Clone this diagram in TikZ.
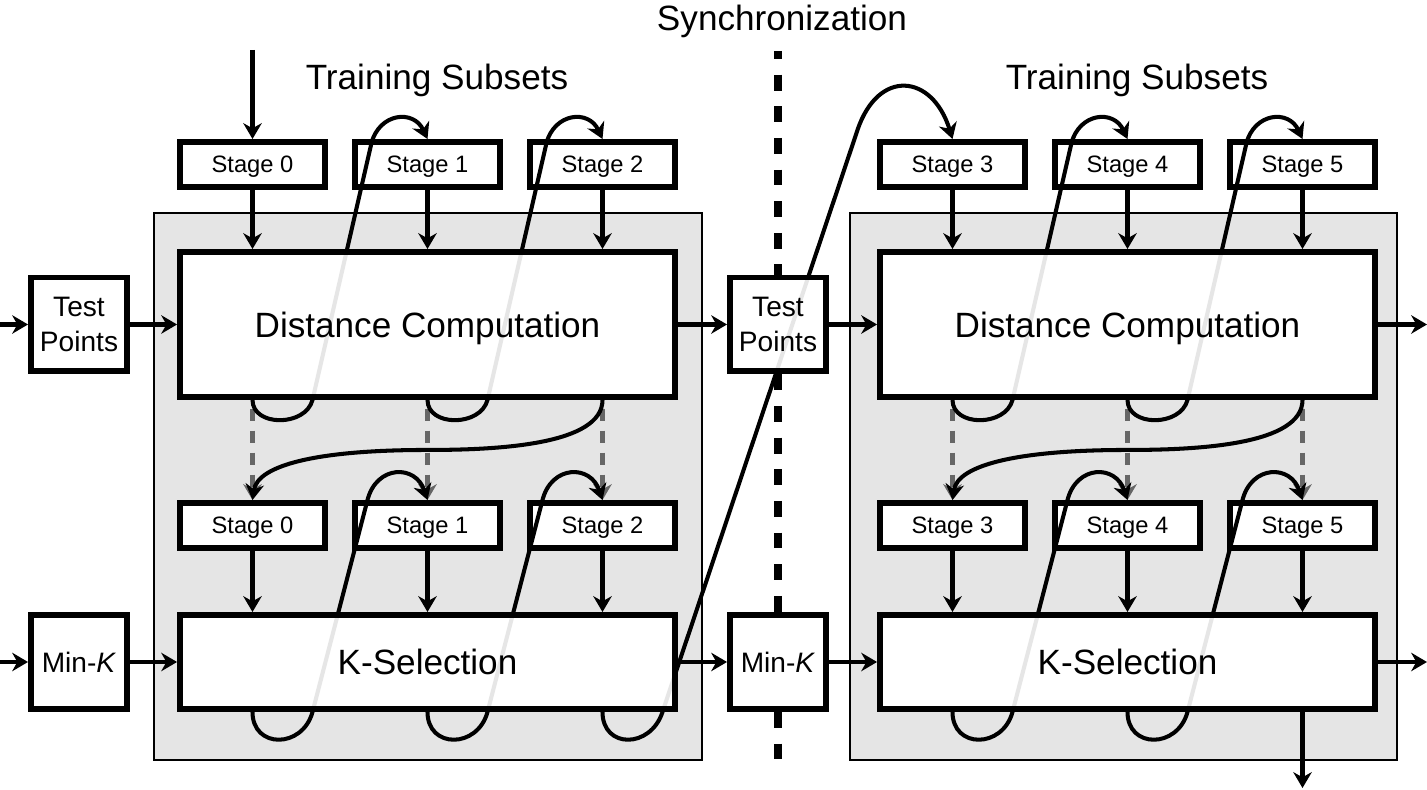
\documentclass[tikz,border=0pt]{standalone}
\usepackage{fontspec}
\setmainfont{Liberation Sans}
\usetikzlibrary{arrows.meta, backgrounds}
\pgfdeclarelayer{lines}
\pgfsetlayers{background,lines,main}
\tikzset{
  box/.style={
    rectangle, draw, line width=3.4pt, fill=white,
    inner sep=0pt, align=center
  },
  stg/.style   = {box, minimum width=2.9cm, minimum height=0.9cm, text depth=0pt,
                  font=\fontsize{13.5}{16}\selectfont},
  comp/.style  = {box, fill opacity=0.9, text opacity=1, minimum width=9.9cm,
                  text depth=0pt, font=\fontsize{20}{24}\selectfont},
  iobox/.style = {box, fill opacity=0.9, text opacity=1,
                  minimum width=1.92cm, minimum height=1.88cm,
                  font=\fontsize{16}{19.5}\selectfont},
  zone/.style  = {rectangle, draw, line width=1.1pt, fill=black!10,
                  minimum width=10.96cm, minimum height=10.94cm},
  ttl/.style   = {anchor=base, font=\fontsize{20}{24}\selectfont},
  arr/.style   = {-{Stealth[length=9pt, width=10.5pt]}, line width=2.3pt},
  darr/.style  = {arr, black!60, dash pattern=on 7pt off 5.5pt, dash phase=7.5pt},
  sync/.style  = {line width=5.1pt, dash pattern=on 9pt off 9pt},
}

\begin{document}
\begin{tikzpicture}[x=0.02cm, y=0.02cm]
  \useasboundingbox (0,0) rectangle (1427,790);

  % Blocks
  \node[comp, minimum height=2.9cm]  (dcL) at (427.5,465.5) {Distance Computation};
  \node[comp, minimum height=1.88cm] (ksL) at (427.5,128) {K-Selection};
  \node[comp, minimum height=2.9cm]  (dcR) at (1127.5,465.5) {Distance Computation};
  \node[comp, minimum height=1.88cm] (ksR) at (1127.5,128) {K-Selection};

  \node[iobox] (tpL) at (79,465.5) {Test\\Points};
  \node[iobox] (mkL) at (79,128) {Min-\textit{K}};
  \node[iobox] (tpM) at (778,465.5) {Test\\Points};
  \node[iobox] (mkM) at (778,128) {Min-\textit{K}};

  % Zones, synchronization and stages
  \begin{scope}[on background layer]
    \node[zone] (zoneL) at (428,303.5) {};
    \node[zone, minimum width=10.94cm] (zoneR) at (1123.5,303.5) {};
    \fill[white] (dcL.south west) rectangle (dcL.north east);
    \fill[white] (ksL.south west) rectangle (ksL.north east);
    \fill[white] (dcR.south west) rectangle (dcR.north east);
    \fill[white] (ksR.south west) rectangle (ksR.north east);

    \coordinate (syncTop) at (778,739);
    \coordinate (syncBot) at (778,29);
    \draw[sync, dash phase=4.5pt] (syncTop) -- (tpM.north);
    \draw[sync] (tpM.south) -- (mkM.north);
    \draw[sync] (mkM.south) -- (syncBot);

    \node[stg] (s0a) at (252.5,625.5) {Stage 0};
    \node[stg] (s1a) at (427.5,625.5) {Stage 1};
    \node[stg] (s2a) at (602.5,625.5) {Stage 2};
    \node[stg] (s3a) at (952.5,625.5) {Stage 3};
    \node[stg] (s4a) at (1127.5,625.5) {Stage 4};
    \node[stg] (s5a) at (1302.5,625.5) {Stage 5};
    \node[stg] (s0b) at (252.5,264.5) {Stage 0};
    \node[stg] (s1b) at (427.5,264.5) {Stage 1};
    \node[stg] (s2b) at (602.5,264.5) {Stage 2};
    \node[stg] (s3b) at (952.5,264.5) {Stage 3};
    \node[stg] (s4b) at (1127.5,264.5) {Stage 4};
    \node[stg] (s5b) at (1302.5,264.5) {Stage 5};
  \end{scope}

  % Connectors (behind the blocks)
  \begin{pgfonlayer}{lines}
    \coordinate (inTop) at (252.5,740);
    \coordinate (inTP)  at (0,465.5);
    \coordinate (inMK)  at (0,128);
    \coordinate (outDC) at (1427,465.5);
    \coordinate (outKS) at (1427,128);
    \coordinate (outBot) at (1302.5,2);

    \draw[arr] (inTop) -- (s0a);
    \draw[arr] (inTP) -- (tpL);
    \draw[arr] (inMK) -- (mkL);
    \draw[arr] (tpL) -- (dcL);
    \draw[arr] (mkL) -- (ksL);
    \draw[arr] (dcL) -- (tpM);
    \draw[arr] (ksL) -- (mkM);
    \draw[arr] (tpM) -- (dcR);
    \draw[arr] (mkM) -- (ksR);
    \draw[arr] (dcR) -- (outDC);
    \draw[arr] (ksR) -- (outKS);
    \draw[arr] (ksR.south -| s5b) -- (outBot);

    % stage inputs
    \draw[arr] (s0a) -- (s0a |- dcL.north);
    \draw[arr] (s1a) -- (s1a |- dcL.north);
    \draw[arr] (s2a) -- (s2a |- dcL.north);
    \draw[arr] (s3a) -- (s3a |- dcR.north);
    \draw[arr] (s4a) -- (s4a |- dcR.north);
    \draw[arr] (s5a) -- (s5a |- dcR.north);
    \draw[arr] (s0b) -- (s0b |- ksL.north);
    \draw[arr] (s1b) -- (s1b |- ksL.north);
    \draw[arr] (s2b) -- (s2b |- ksL.north);
    \draw[arr] (s3b) -- (s3b |- ksR.north);
    \draw[arr] (s4b) -- (s4b |- ksR.north);
    \draw[arr] (s5b) -- (s5b |- ksR.north);

    % direct hand-over (dashed)
    \draw[darr] (dcL.south -| s0a) -- (s0b);
    \draw[darr] (dcL.south -| s1a) -- (s1b);
    \draw[darr] (dcL.south -| s2a) -- (s2b);
    \draw[darr] (dcR.south -| s3a) -- (s3b);
    \draw[darr] (dcR.south -| s4a) -- (s4b);
    \draw[darr] (dcR.south -| s5a) -- (s5b);

    % rotation of the subsets
    \draw[arr] (dcL.south -| s0a) .. controls +(0,-27) and +(-7,-27) .. ++(60,0)
      -- ++(59,257) .. controls +(8,30) and +(-14,30) .. (s1a.north);
    \draw[arr] (dcL.south -| s1a) .. controls +(0,-27) and +(-7,-27) .. ++(60,0)
      -- ++(59,257) .. controls +(8,30) and +(-14,30) .. (s2a.north);
    \draw[arr] (dcL.south -| s2a) .. controls +(0,-45) and +(70,0) .. ++(-175,-50)
      .. controls +(-110,0) and +(5,35) .. (s0b.north);
    \draw[arr] (ksL.south -| s0b) .. controls +(0,-37) and +(-10,-37) .. ++(60,0)
      -- ++(55,212) .. controls +(9,35) and +(-12,36) .. (s1b.north);
    \draw[arr] (ksL.south -| s1b) .. controls +(0,-37) and +(-10,-37) .. ++(60,0)
      -- ++(55,212) .. controls +(9,35) and +(-12,36) .. (s2b.north);
    \draw[arr] (ksL.south -| s2b) .. controls +(0,-37) and +(-12,-37) .. ++(60,0)
      -- ++(195,582) .. controls +(21,62) and +(-20,65) .. (s3a.north);

    \draw[arr] (dcR.south -| s3a) .. controls +(0,-27) and +(-7,-27) .. ++(60,0)
      -- ++(59,257) .. controls +(8,30) and +(-14,30) .. (s4a.north);
    \draw[arr] (dcR.south -| s4a) .. controls +(0,-27) and +(-7,-27) .. ++(60,0)
      -- ++(59,257) .. controls +(8,30) and +(-14,30) .. (s5a.north);
    \draw[arr] (dcR.south -| s5a) .. controls +(0,-45) and +(70,0) .. ++(-175,-50)
      .. controls +(-110,0) and +(5,35) .. (s3b.north);
    \draw[arr] (ksR.south -| s3b) .. controls +(0,-37) and +(-10,-37) .. ++(60,0)
      -- ++(55,212) .. controls +(9,35) and +(-12,36) .. (s4b.north);
    \draw[arr] (ksR.south -| s4b) .. controls +(0,-37) and +(-10,-37) .. ++(60,0)
      -- ++(55,212) .. controls +(9,35) and +(-12,36) .. (s5b.north);
  \end{pgfonlayer}

  % Labels
  \node[ttl] (syncLbl) at (782,759) {Synchronization};
  \node[ttl] (tsL) at (437,700) {Training Subsets};
  \node[ttl] (tsR) at (1137,700) {Training Subsets};

\end{tikzpicture}
\end{document}
